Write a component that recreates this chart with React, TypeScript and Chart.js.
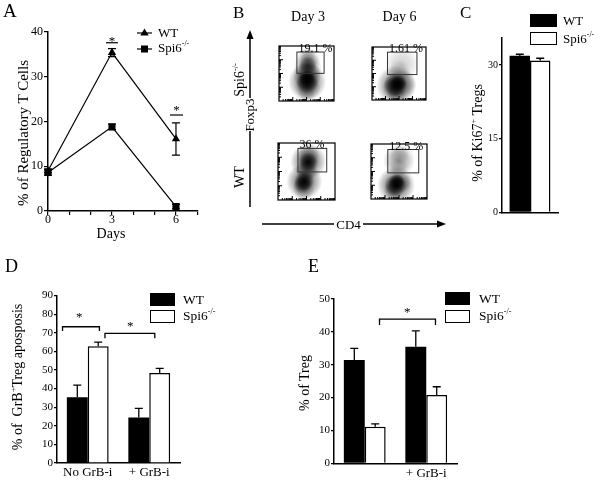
import React, { useEffect, useRef } from "react";
import { Chart, registerables } from "chart.js";

Chart.register(...registerables);

const FONT = '"Liberation Serif", "Times New Roman", serif';
Chart.defaults.font.family = FONT;
Chart.defaults.color = "#000";

// ---------- Panel A: % of regulatory T cells over days ----------
const daysA = [0, 3, 6];
const wtTreg = [9.0, 35.4, 16.1];
const wtTregErr = [0.4, 0.9, 3.6];
const spiTreg = [8.6, 18.8, 1.0];
const spiTregErr = [0.6, 0.6, 0.5];
const aXTickLabels = [0, 3, 6];
// x0, x1, line value, star value
const aSigLines = [
  [2.72, 3.28, 37.6, 38.6],
  [5.72, 6.33, 21.45, 23.2],
];

// ---------- Panel B: flow cytometry (log decades 0-4) ----------
type Blob = [number, number, number, number]; // x, y, radius px, density level
const flowSpiDay3: Blob[] = [
  [2.0, 0.6, 9, 0], [2.1, 3.3, 8, 0],
  [2.08, 1.0, 13, 1], [2.1, 2.45, 14, 1], [2.12, 2.95, 12, 1],
  [2.05, 1.4, 19, 2], [2.05, 1.85, 14, 2], [2.1, 2.6, 9, 2],
  [2.05, 1.35, 11, 3], [2.05, 1.7, 8, 3],
];
const flowSpiDay6: Blob[] = [
  [2.2, 2.7, 17, 0], [2.0, 2.2, 11, 0],
  [2.25, 1.2, 14, 1], [1.55, 0.9, 11, 1], [1.8, 0.5, 10, 1],
  [1.8, 1.1, 20, 2],
  [1.75, 1.15, 12, 3], [1.95, 1.25, 8, 3],
];
const flowWTDay3: Blob[] = [
  [2.15, 3.1, 11, 1], [2.0, 2.1, 11, 1], [1.8, 0.8, 11, 1],
  [2.12, 2.7, 18, 2], [1.85, 1.3, 18, 2], [1.7, 1.1, 9, 2],
  [2.12, 2.65, 10, 3], [1.85, 1.35, 10, 3],
];
const flowWTDay6: Blob[] = [
  [2.05, 3.2, 10, 0], [1.95, 2.3, 10, 0],
  [1.6, 0.6, 10, 1], [2.2, 1.2, 10, 1], [2.0, 2.8, 16, 1],
  [1.8, 1.0, 19, 2],
  [1.75, 1.0, 11, 3], [1.85, 1.25, 8, 3],
];
// x0, x1, y0, y1
const gateSpiDay3 = [1.3, 3.28, 2.01, 3.56];
const gateSpiDay6 = [1.15, 3.33, 1.92, 3.61];
const gateWTDay3 = [1.4, 3.42, 1.97, 3.62];
const gateWTDay6 = [1.2, 3.41, 1.9, 3.6];
const flowPercents = ["19.1 %", "1.61 %", "36 %", "12.5 %"];
const flowDensityAlpha = [0.18, 0.35, 0.6, 0.95];

// ---------- Panel C: % of Ki67+ Tregs ----------
const cCategories = [""];
const cWT = [31.9];
const cWTErr = [0.3];
const cSpi = [30.9];
const cSpiErr = [0.5];

// ---------- Panel D: % GrB+ Treg apoptosis ----------
const dCategories = ["No GrB-i", "+ GrB-i"];
const dWT = [35.3, 24.5];
const dWTErr = [6.5, 4.9];
const dSpi = [62.7, 48.3];
const dSpiErr = [2.3, 2.5];
// x0, x1, bracket value, leg end value
const dBrackets = [
  [-0.41, 0.19, 73.2, 70.9],
  [0.28, 1.09, 69.7, 67.0],
];
const dStars = [
  [-0.14, 79.5],
  [0.69, 74.7],
];

// ---------- Panel E: % of Treg ----------
const eCategories = ["", "+ GrB-i"];
const eWT = [31.4, 35.5];
const eWTErr = [3.6, 4.8];
const eSpi = [11.1, 20.8];
const eSpiErr = [0.9, 2.5];
const eBrackets = [[0.24, 1.15, 43.9, 42.1]];
const eStars = [[0.69, 46.7]];

// ---------- helpers ----------
type Rect = { x: number; y: number; w: number; h: number };
type Area = { l: number; t: number; r: number; b: number };

function padFor(c: Rect, a: Area, yw: number, xh: number) {
  return {
    left: a.l - c.x - yw,
    top: a.t - c.y,
    right: c.x + c.w - a.r,
    bottom: c.y + c.h - a.b - xh,
  };
}

type ErrSpec = { index: number; values: number[]; errs: number[]; both?: boolean; cap: number };

function overlay(spec: {
  errors?: ErrSpec[];
  brackets?: number[][];
  stars?: number[][];
  starSize?: number;
  lineWidth?: number;
}) {
  return {
    id: "overlay",
    afterDatasetsDraw(chart: any) {
      const ctx = chart.ctx;
      const xs = chart.scales.x;
      const ys = chart.scales.y;
      ctx.save();
      ctx.strokeStyle = "#000";
      ctx.fillStyle = "#000";
      ctx.lineWidth = spec.lineWidth ?? 1.5;
      (spec.errors || []).forEach((e) => {
        const meta = chart.getDatasetMeta(e.index);
        meta.data.forEach((el: any, j: number) => {
          const v = e.values[j];
          const d = e.errs[j];
          const px = el.x;
          const top = ys.getPixelForValue(v + d);
          const bot = ys.getPixelForValue(e.both ? v - d : v);
          ctx.beginPath();
          ctx.moveTo(px, bot);
          ctx.lineTo(px, top);
          ctx.moveTo(px - e.cap, top);
          ctx.lineTo(px + e.cap, top);
          if (e.both) {
            ctx.moveTo(px - e.cap, bot);
            ctx.lineTo(px + e.cap, bot);
          }
          ctx.stroke();
        });
      });
      (spec.brackets || []).forEach(([x0, x1, y, yLeg]) => {
        const a = xs.getPixelForValue(x0);
        const b = xs.getPixelForValue(x1);
        const py = ys.getPixelForValue(y);
        const pl = ys.getPixelForValue(yLeg);
        ctx.beginPath();
        ctx.moveTo(a, pl);
        ctx.lineTo(a, py);
        ctx.lineTo(b, py);
        ctx.lineTo(b, pl);
        ctx.stroke();
      });
      const fs = spec.starSize ?? 13;
      ctx.font = `${fs}px ${FONT}`;
      ctx.textAlign = "center";
      ctx.textBaseline = "alphabetic";
      (spec.stars || []).forEach(([x, y]) => {
        ctx.fillText("*", xs.getPixelForValue(x), ys.getPixelForValue(y) + 0.49 * fs);
      });
      ctx.restore();
    },
  };
}

function flowDecor(gate: number[], label: string) {
  return {
    id: "flowDecor",
    afterDatasetsDraw(chart: any) {
      const ctx = chart.ctx;
      const ca = chart.chartArea;
      const xs = chart.scales.x;
      const ys = chart.scales.y;
      ctx.save();
      ctx.strokeStyle = "#000";
      ctx.lineWidth = 1.2;
      ctx.strokeRect(ca.left, ca.top, ca.right - ca.left, ca.bottom - ca.top);
      ctx.lineWidth = 1;
      ctx.beginPath();
      for (let d = 0; d < 4; d++) {
        for (let k = 1; k <= 9; k++) {
          const v = d + Math.log10(k);
          if (v <= 0) continue;
          const len = k === 1 ? 4 : 2;
          const px = xs.getPixelForValue(v);
          ctx.moveTo(px, ca.bottom);
          ctx.lineTo(px, ca.bottom - len);
          const py = ys.getPixelForValue(v);
          ctx.moveTo(ca.left, py);
          ctx.lineTo(ca.left + len, py);
        }
      }
      ctx.stroke();
      const gx0 = xs.getPixelForValue(gate[0]);
      const gx1 = xs.getPixelForValue(gate[1]);
      const gy0 = ys.getPixelForValue(gate[2]);
      const gy1 = ys.getPixelForValue(gate[3]);
      ctx.strokeStyle = "#333";
      ctx.lineWidth = 1;
      ctx.strokeRect(gx0, gy1, gx1 - gx0, gy0 - gy1);
      ctx.fillStyle = "#000";
      ctx.font = `12px ${FONT}`;
      ctx.textAlign = "left";
      ctx.textBaseline = "alphabetic";
      ctx.fillText(label, gx0 + 1.5, gy1);
      ctx.restore();
    },
  };
}

function yScale(min: number, max: number, step: number, yw: number, fontSize: number, tl: number, pad: number) {
  return {
    min,
    max,
    afterFit: (s: any) => {
      s.width = yw;
    },
    ticks: { stepSize: step, includeBounds: false, autoSkip: false, font: { size: fontSize, family: FONT }, color: "#000", padding: pad },
    grid: { drawOnChartArea: false, drawTicks: true, tickLength: tl, color: "#000", lineWidth: 1.2 },
    border: { display: true, color: "#000", width: 1.5 },
  };
}

function catScale(labels: string[], xh: number, showLabels: boolean, pad: number) {
  return {
    type: "category",
    labels,
    offset: true,
    afterFit: (s: any) => {
      s.height = xh;
    },
    ticks: { display: showLabels, font: { size: 13, family: FONT }, color: "#000", padding: pad, maxRotation: 0, autoSkip: false },
    grid: { display: false, drawTicks: false },
    border: { display: true, color: "#000", width: 1.5 },
  };
}

const baseOpts = {
  animation: false,
  responsive: false,
  devicePixelRatio: 1,
  events: [],
};

// ---------- chart configs ----------
const rectA: Rect = { x: 0, y: 0, w: 215, h: 240 };
const areaA: Area = { l: 48, t: 32, r: 197.3, b: 211 };
function makeA() {
  return {
    type: "line",
    data: {
      datasets: [
        {
          label: "WT",
          data: daysA.map((d, i) => ({ x: d, y: wtTreg[i] })),
          borderColor: "#000",
          backgroundColor: "#000",
          borderWidth: 1.2,
          pointStyle: "triangle",
          pointRadius: 4.8,
          pointBorderWidth: 0,
          clip: false,
        },
        {
          label: "Spi6-/-",
          data: daysA.map((d, i) => ({ x: d, y: spiTreg[i] })),
          borderColor: "#000",
          backgroundColor: "#000",
          borderWidth: 1.2,
          pointStyle: "rect",
          pointRadius: 5,
          pointBorderWidth: 0,
          clip: false,
        },
      ],
    },
    options: {
      ...baseOpts,
      layout: { padding: padFor(rectA, areaA, 30, 24) },
      plugins: { legend: { display: false }, tooltip: { enabled: false } },
      scales: {
        x: {
          type: "linear",
          min: 0,
          max: 7,
          afterFit: (s: any) => {
            s.height = 24;
          },
          ticks: {
            stepSize: 1,
            autoSkip: false,
            maxRotation: 0,
            font: { size: 12, family: FONT },
            color: "#000",
            padding: -2,
            callback: (v: any) => (aXTickLabels.includes(v) ? String(v) : ""),
          },
          grid: { drawOnChartArea: false, drawTicks: true, tickLength: 4, color: "#000", lineWidth: 1.2 },
          border: { display: true, color: "#000", width: 1.5 },
        },
        y: yScale(0, 40, 10, 30, 12, 4, 1),
      },
    },
    plugins: [
      overlay({
        lineWidth: 1.2,
        errors: [
          { index: 0, values: wtTreg, errs: wtTregErr, both: true, cap: 4 },
          { index: 1, values: spiTreg, errs: spiTregErr, both: true, cap: 4 },
        ],
        brackets: aSigLines.map(([a, b, y]) => [a, b, y, y]),
        stars: aSigLines.map(([a, b, , s]) => [(a + b) / 2, s]),
        starSize: 13,
      }),
    ],
  };
}

function blobFill(alpha: number) {
  return (c: any) => {
    const raw = c.raw;
    const xs = c.chart && c.chart.scales && c.chart.scales.x;
    const ys = c.chart && c.chart.scales && c.chart.scales.y;
    if (!raw || !xs || !ys) return `rgba(0,0,0,${alpha * 0.5})`;
    const x = xs.getPixelForValue(raw.x);
    const y = ys.getPixelForValue(raw.y);
    const r = raw.r;
    if (!Number.isFinite(x) || !Number.isFinite(y) || !Number.isFinite(r) || r <= 0) {
      return `rgba(0,0,0,${alpha * 0.5})`;
    }
    const g = c.chart.ctx.createRadialGradient(x, y, 0, x, y, r);
    g.addColorStop(0, `rgba(0,0,0,${alpha})`);
    g.addColorStop(0.55, `rgba(0,0,0,${alpha * 0.6})`);
    g.addColorStop(1, "rgba(0,0,0,0)");
    return g;
  };
}

function makeFlow(rect: Rect, area: Area, blobs: Blob[], gate: number[], label: string) {
  return () => ({
    type: "bubble",
    data: {
      datasets: flowDensityAlpha.map((a, lv) => ({
        data: blobs.filter((b) => b[3] === lv).map((b) => ({ x: b[0], y: b[1], r: b[2] })),
        backgroundColor: blobFill(a),
        borderWidth: 0,
        clip: 0,
      })),
    },
    options: {
      ...baseOpts,
      layout: { padding: padFor(rect, area, 0, 0) },
      plugins: { legend: { display: false }, tooltip: { enabled: false } },
      scales: {
        x: { type: "linear", display: false, min: 0, max: 4 },
        y: { type: "linear", display: false, min: 0, max: 4 },
      },
    },
    plugins: [flowDecor(gate, label)],
  });
}

const rectTL: Rect = { x: 260, y: 27, w: 93, h: 93 };
const areaTL: Area = { l: 265, t: 32, r: 348, b: 114.5 };
const rectTR: Rect = { x: 352, y: 27, w: 94, h: 93 };
const areaTR: Area = { l: 357, t: 32, r: 440.7, b: 114.5 };
const rectBL: Rect = { x: 260, y: 125, w: 93, h: 93 };
const areaBL: Area = { l: 265, t: 130.5, r: 348, b: 212.5 };
const rectBR: Rect = { x: 352, y: 125, w: 94, h: 93 };
const areaBR: Area = { l: 357, t: 130.5, r: 440.7, b: 212.5 };

function barDatasets(wt: number[], spi: number[], cp: number) {
  return [
    { label: "WT", data: wt, backgroundColor: "#000", borderWidth: 0, categoryPercentage: cp, barPercentage: 1 },
    {
      label: "Spi6-/-",
      data: spi,
      backgroundColor: "#fff",
      borderColor: "#000",
      borderWidth: 1.5,
      borderSkipped: "start",
      categoryPercentage: cp,
      barPercentage: 1,
    },
  ];
}

const rectC: Rect = { x: 440, y: 20, w: 161, h: 200 };
const areaC: Area = { l: 502, t: 38, r: 558, b: 212.3 };
function makeC() {
  return {
    type: "bar",
    data: { labels: cCategories, datasets: barDatasets(cWT, cSpi, 0.73) },
    options: {
      ...baseOpts,
      layout: { padding: padFor(rectC, areaC, 22, 2) },
      plugins: { legend: { display: false }, tooltip: { enabled: false } },
      scales: { x: catScale(cCategories, 2, false, 0), y: yScale(0, 35.5, 15, 22, 10, 3, 1) },
    },
    plugins: [
      overlay({
        errors: [
          { index: 0, values: cWT, errs: cWTErr, cap: 4 },
          { index: 1, values: cSpi, errs: cSpiErr, cap: 4 },
        ],
      }),
    ],
  };
}

const rectD: Rect = { x: 0, y: 280, w: 200, h: 200 };
const areaD: Area = { l: 57, t: 295.5, r: 180, b: 463 };
function makeD() {
  return {
    type: "bar",
    data: { labels: dCategories, datasets: barDatasets(dWT, dSpi, 0.68) },
    options: {
      ...baseOpts,
      layout: { padding: padFor(rectD, areaD, 22, 16) },
      plugins: { legend: { display: false }, tooltip: { enabled: false } },
      scales: { x: catScale(dCategories, 16, true, 2), y: yScale(0, 90, 10, 22, 11, 3, 1) },
    },
    plugins: [
      overlay({
        errors: [
          { index: 0, values: dWT, errs: dWTErr, cap: 4 },
          { index: 1, values: dSpi, errs: dSpiErr, cap: 4 },
        ],
        brackets: dBrackets,
        stars: dStars,
        starSize: 13,
        lineWidth: 1.3,
      }),
    ],
  };
}

const rectE: Rect = { x: 280, y: 285, w: 321, h: 195 };
const areaE: Area = { l: 334, t: 299, r: 457, b: 463.3 };
function makeE() {
  return {
    type: "bar",
    data: { labels: eCategories, datasets: barDatasets(eWT, eSpi, 0.68) },
    options: {
      ...baseOpts,
      layout: { padding: padFor(rectE, areaE, 22, 16) },
      plugins: { legend: { display: false }, tooltip: { enabled: false } },
      scales: { x: catScale(eCategories, 16, true, 2), y: yScale(0, 50, 10, 22, 11, 3, 1) },
    },
    plugins: [
      overlay({
        errors: [
          { index: 0, values: eWT, errs: eWTErr, cap: 4 },
          { index: 1, values: eSpi, errs: eSpiErr, cap: 4 },
        ],
        brackets: eBrackets,
        stars: eStars,
        starSize: 13,
        lineWidth: 1.3,
      }),
    ],
  };
}

// ---------- React components ----------
function ChartCanvas({ rect, make }: { rect: Rect; make: () => any }) {
  const ref = useRef<HTMLCanvasElement>(null);
  useEffect(() => {
    let chart: Chart | null = null;
    try {
      chart = new Chart(ref.current as HTMLCanvasElement, make() as any);
    } catch (err) {
      console.error(err);
    }
    return () => {
      if (chart) chart.destroy();
    };
  }, []);
  return (
    <canvas
      ref={ref}
      width={rect.w}
      height={rect.h}
      style={{ position: "absolute", left: rect.x, top: rect.y, width: rect.w, height: rect.h }}
    />
  );
}

function T({ x, y, size, children, center }: { x: number; y: number; size: number; children: any; center?: boolean }) {
  return (
    <div
      style={{
        position: "absolute",
        left: x,
        top: y - 0.8375 * size,
        fontSize: size,
        lineHeight: `${size}px`,
        fontFamily: FONT,
        whiteSpace: "nowrap",
        color: "#000",
        transform: center ? "translateX(-50%)" : undefined,
      }}
    >
      {children}
    </div>
  );
}

function VT({ cx, cy, size, children }: { cx: number; cy: number; size: number; children: any }) {
  return (
    <div
      style={{
        position: "absolute",
        left: cx,
        top: cy,
        fontSize: size,
        lineHeight: `${size}px`,
        fontFamily: FONT,
        whiteSpace: "nowrap",
        color: "#000",
        transform: "translate(-50%, -50%) rotate(-90deg)",
      }}
    >
      {children}
    </div>
  );
}

function Sup({ children }: { children: any }) {
  return <span style={{ fontSize: "0.6em", position: "relative", top: "-0.75em", lineHeight: 0 }}>{children}</span>;
}

function Swatch({ x, y, w, h, filled }: { x: number; y: number; w: number; h: number; filled: boolean }) {
  return (
    <div
      style={{
        position: "absolute",
        left: x,
        top: y,
        width: w,
        height: h,
        boxSizing: "border-box",
        background: filled ? "#000" : "#fff",
        border: "1.5px solid #000",
      }}
    />
  );
}

export default function App() {
  return (
    <div style={{ position: "absolute", left: 0, top: 0, width: 601, height: 480, background: "#fff", overflow: "hidden" }}>
      <ChartCanvas rect={rectA} make={makeA} />
      <ChartCanvas rect={rectTL} make={makeFlow(rectTL, areaTL, flowSpiDay3, gateSpiDay3, flowPercents[0])} />
      <ChartCanvas rect={rectTR} make={makeFlow(rectTR, areaTR, flowSpiDay6, gateSpiDay6, flowPercents[1])} />
      <ChartCanvas rect={rectBL} make={makeFlow(rectBL, areaBL, flowWTDay3, gateWTDay3, flowPercents[2])} />
      <ChartCanvas rect={rectBR} make={makeFlow(rectBR, areaBR, flowWTDay6, gateWTDay6, flowPercents[3])} />
      <ChartCanvas rect={rectC} make={makeC} />
      <ChartCanvas rect={rectD} make={makeD} />
      <ChartCanvas rect={rectE} make={makeE} />

      <svg width={601} height={480} style={{ position: "absolute", left: 0, top: 0, pointerEvents: "none" }}>
        {/* Panel A legend markers */}
        <line x1={137} y1={33} x2={152} y2={33} stroke="#000" strokeWidth={1.2} />
        <polygon points="144.5,28.5 148.7,35.5 140.3,35.5" fill="#000" />
        <line x1={137} y1={49} x2={152} y2={49} stroke="#000" strokeWidth={1.2} />
        <rect x={141} y={45.5} width={7} height={7} fill="#000" />
        {/* Panel B axis arrows */}
        <line x1={250} y1={207} x2={250} y2={131} stroke="#000" strokeWidth={1.5} />
        <line x1={250} y1={98} x2={250} y2={38} stroke="#000" strokeWidth={1.5} />
        <polygon points="250,30 246.5,39 253.5,39" fill="#000" />
        <line x1={262} y1={224} x2={334} y2={224} stroke="#000" strokeWidth={1.5} />
        <line x1={363} y1={224} x2={438} y2={224} stroke="#000" strokeWidth={1.5} />
        <polygon points="446,224 437,220.5 437,227.5" fill="#000" />
      </svg>

      {/* Panel A texts */}
      <T x={3} y={17} size={19}>A</T>
      <VT cx={23} cy={133} size={15}>% of Regulatory T Cells</VT>
      <T x={111} y={239} size={14} center>Days</T>
      <T x={158} y={37} size={13}>WT</T>
      <T x={158} y={52} size={13}>
        Spi6<Sup>-/-</Sup>
      </T>

      {/* Panel B texts */}
      <T x={233} y={18.5} size={17}>B</T>
      <T x={308} y={21.5} size={14} center>Day 3</T>
      <T x={399.5} y={21.5} size={14} center>Day 6</T>
      <VT cx={240} cy={80} size={14}>
        Spi6<Sup>-/-</Sup>
      </VT>
      <VT cx={249} cy={114.5} size={13}>Foxp3</VT>
      <VT cx={240} cy={177} size={14}>WT</VT>
      <T x={348.5} y={228.5} size={13} center>CD4</T>

      {/* Panel C texts */}
      <T x={460} y={18.5} size={17}>C</T>
      <VT cx={478} cy={133} size={14}>
        % of Ki67<Sup>+</Sup> Tregs
      </VT>
      <Swatch x={530} y={14} w={27} h={13} filled />
      <Swatch x={530} y={32} w={27} h={13} filled={false} />
      <T x={563} y={25} size={13}>WT</T>
      <T x={563} y={43} size={13}>
        Spi6<Sup>-/-</Sup>
      </T>

      {/* Panel D texts */}
      <T x={5} y={272} size={18}>D</T>
      <VT cx={17.5} cy={376.5} size={14}>
        % of&nbsp; GrB<Sup>+</Sup>Treg aposposis
      </VT>
      <Swatch x={150} y={293} w={25} h={13} filled />
      <Swatch x={150} y={309.5} w={25} h={13} filled={false} />
      <T x={183} y={304} size={13.5}>WT</T>
      <T x={183} y={320} size={13.5}>
        Spi6<Sup>-/-</Sup>
      </T>

      {/* Panel E texts */}
      <T x={308} y={272} size={18}>E</T>
      <VT cx={305} cy={382.5} size={14}>% of Treg</VT>
      <Swatch x={444.5} y={292} w={25.5} h={13} filled />
      <Swatch x={444.5} y={309.5} w={25.5} h={13} filled={false} />
      <T x={479} y={303} size={13.5}>WT</T>
      <T x={479} y={320} size={13.5}>
        Spi6<Sup>-/-</Sup>
      </T>
    </div>
  );
}
